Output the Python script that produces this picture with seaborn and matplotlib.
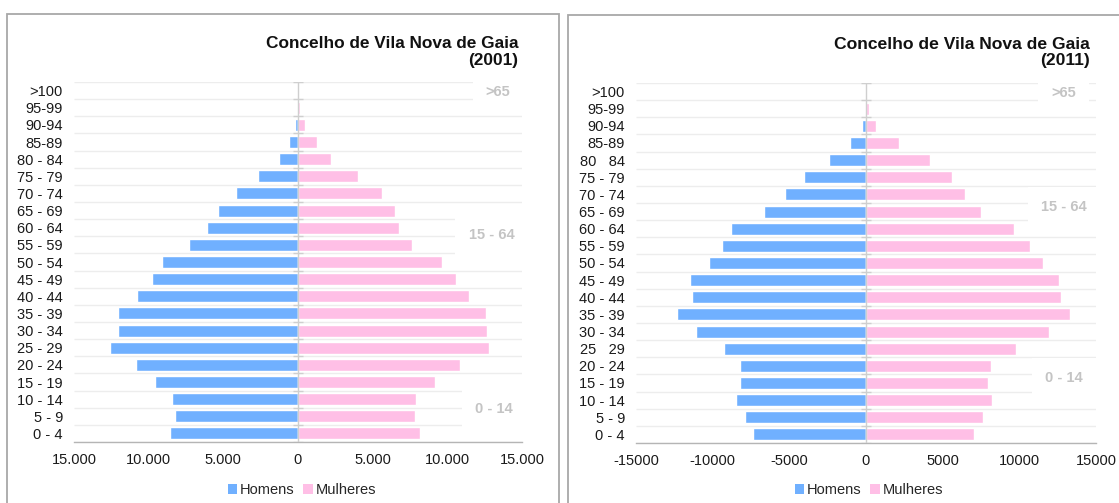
import numpy as np
import pandas as pd
import matplotlib
matplotlib.use("Agg")
import matplotlib.pyplot as plt
from matplotlib.patches import Patch, Rectangle
from matplotlib.ticker import FuncFormatter
import seaborn as sns

# Age groups, top of the pyramid first
ages = [">100", "95-99", "90-94", "85-89", "80 - 84", "75 - 79", "70 - 74",
        "65 - 69", "60 - 64", "55 - 59", "50 - 54", "45 - 49", "40 - 44",
        "35 - 39", "30 - 34", "25 - 29", "20 - 24", "15 - 19", "10 - 14",
        "5 - 9", "0 - 4"]
ages_2011_labels = [">100", "95-99", "90-94", "85-89", "80   84", "75 - 79",
                    "70 - 74", "65 - 69", "60 - 64", "55 - 59", "50 - 54",
                    "45 - 49", "40 - 44", "35 - 39", "30 - 34", "25   29",
                    "20 - 24", "15 - 19", "10 - 14", "5 - 9", "0 - 4"]

homens_2001 = [20, 60, 190, 570, 1270, 2650, 4150, 5350, 6090, 7300, 9140,
               9810, 10760, 12030, 12040, 12560, 10840, 9570, 8420, 8210, 8540]
mulheres_2001 = [40, 120, 450, 1290, 2220, 4030, 5610, 6470, 6780, 7660, 9620,
                 10600, 11480, 12600, 12650, 12790, 10880, 9160, 7880, 7830, 8190]

homens_2011 = [20, 60, 255, 1070, 2420, 4050, 5260, 6670, 8810, 9420, 10260,
               11490, 11370, 12330, 11090, 9260, 8190, 8190, 8510, 7860, 7370]
mulheres_2011 = [60, 210, 650, 2160, 4190, 5630, 6470, 7470, 9630, 10670, 11530,
                 12580, 12700, 13280, 11910, 9810, 8140, 7980, 8190, 7650, 7020]

sexes = ["Homens", "Mulheres"]
colors = {"Homens": "#70B0FF", "Mulheres": "#FFBFE6"}
broad_groups = [">65", "15 - 64", "0 - 14"]

sns.set_style("white")
plt.rcParams["font.family"] = ["Liberation Sans", "DejaVu Sans"]

W, H = 1119, 503
fig = plt.figure(figsize=(W / 100, H / 100), dpi=100)


def px_box(x0, x1, ytop, ybot):
    return [x0 / W, 1 - ybot / H, (x1 - x0) / W, (ybot - ytop) / H]


def pyramid(ax, men, women, ylabels, fmt, group_rows, group_x):
    df = pd.DataFrame({
        "idade": ages * 2,
        "sexo": ["Homens"] * len(ages) + ["Mulheres"] * len(ages),
        "valor": [-v for v in men] + list(women),
    })
    n = len(ages)
    bounds = np.arange(-0.5, n, 1.0)
    # light separators between age groups
    ax.hlines(bounds, -15000, 15000, color="#ededed", lw=1.0, zorder=0)
    sns.barplot(data=df, y="idade", x="valor", hue="sexo", order=ages,
                hue_order=sexes, palette=colors, dodge=False, width=0.70,
                orient="h", saturation=1, legend=False, ax=ax, zorder=2)
    # zero line with small tick marks
    ax.axvline(0, color="#cfcfcf", lw=1.0, zorder=3)
    ax.hlines(bounds, -350, 350, color="#cfcfcf", lw=1.0, zorder=3)

    ax.set_xlim(-15000, 15000)
    ax.set_ylim(n - 0.5, -0.5)
    ax.set_xticks(np.arange(-15000, 15001, 5000))
    ax.xaxis.set_major_formatter(FuncFormatter(fmt))
    ax.set_yticks(range(n))
    ax.set_yticklabels(ylabels)
    ax.set_xlabel("")
    ax.set_ylabel("")
    for s in ["top", "right", "left"]:
        ax.spines[s].set_visible(False)
    ax.spines["bottom"].set_color("#b5b5b5")
    ax.spines["bottom"].set_linewidth(1.0)
    ax.tick_params(axis="x", direction="out", length=5, width=1.0,
                   color="#b5b5b5", labelsize=10.5, labelcolor="#1a1a1a", pad=3)
    ax.tick_params(axis="y", length=0, labelsize=10.5, labelcolor="#1a1a1a",
                   pad=8)

    for label, row, xx in zip(broad_groups, group_rows, group_x):
        ax.text(xx, row, label, ha="center", va="center", fontsize=10.5,
                fontweight="bold", color="#c4c4c4", zorder=5,
                bbox=dict(boxstyle="square,pad=0.9", fc="white", ec="none"))


def fmt_pt(v, pos):
    return f"{abs(int(round(v))):,}".replace(",", ".")


def fmt_plain(v, pos):
    return f"{int(round(v))}"


ax1 = fig.add_axes(px_box(74, 522, 82, 442))
pyramid(ax1, homens_2001, mulheres_2001, ages, fmt_pt,
        [0.1, 8.45, 18.55], [13400, 12950, 13150])

ax2 = fig.add_axes(px_box(636, 1096, 83, 443))
pyramid(ax2, homens_2011, mulheres_2011, ages_2011_labels, fmt_plain,
        [0.1, 6.75, 16.7], [12900, 12900, 12900])

# titles
fig.text(518 / W, 1 - 52 / H, "Concelho de Vila Nova de Gaia\n(2001)",
         ha="right", va="center", fontsize=12.4, fontweight="bold",
         color="#111111", linespacing=1.15, multialignment="right")
fig.text(1090 / W, 1 - 52.5 / H, "Concelho de Vila Nova de Gaia\n(2011)",
         ha="right", va="center", fontsize=12.6, fontweight="bold",
         color="#111111", linespacing=1.15, multialignment="right")

# legends
handles = [Patch(facecolor=colors[s], edgecolor="none", label=s) for s in sexes]
for cx in (302 / W, 869 / W):
    fig.legend(handles=handles, loc="center", bbox_to_anchor=(cx, 1 - 490 / H),
               ncol=2, frameon=False, fontsize=10.5, handlelength=0.65,
               handleheight=0.65, handletextpad=0.2, columnspacing=0.6,
               borderaxespad=0)

# panel frames
fig.add_artist(Rectangle((7 / W, -0.05), (559 - 7) / W, 1.05 - 14 / H,
                         transform=fig.transFigure, fill=False,
                         ec="#a8a8a8", lw=1.3))
fig.add_artist(Rectangle((568 / W, -0.05), 0.6, 1.05 - 15 / H,
                         transform=fig.transFigure, fill=False,
                         ec="#a8a8a8", lw=1.3))

fig.savefig("out.png", dpi=100, facecolor="white")
